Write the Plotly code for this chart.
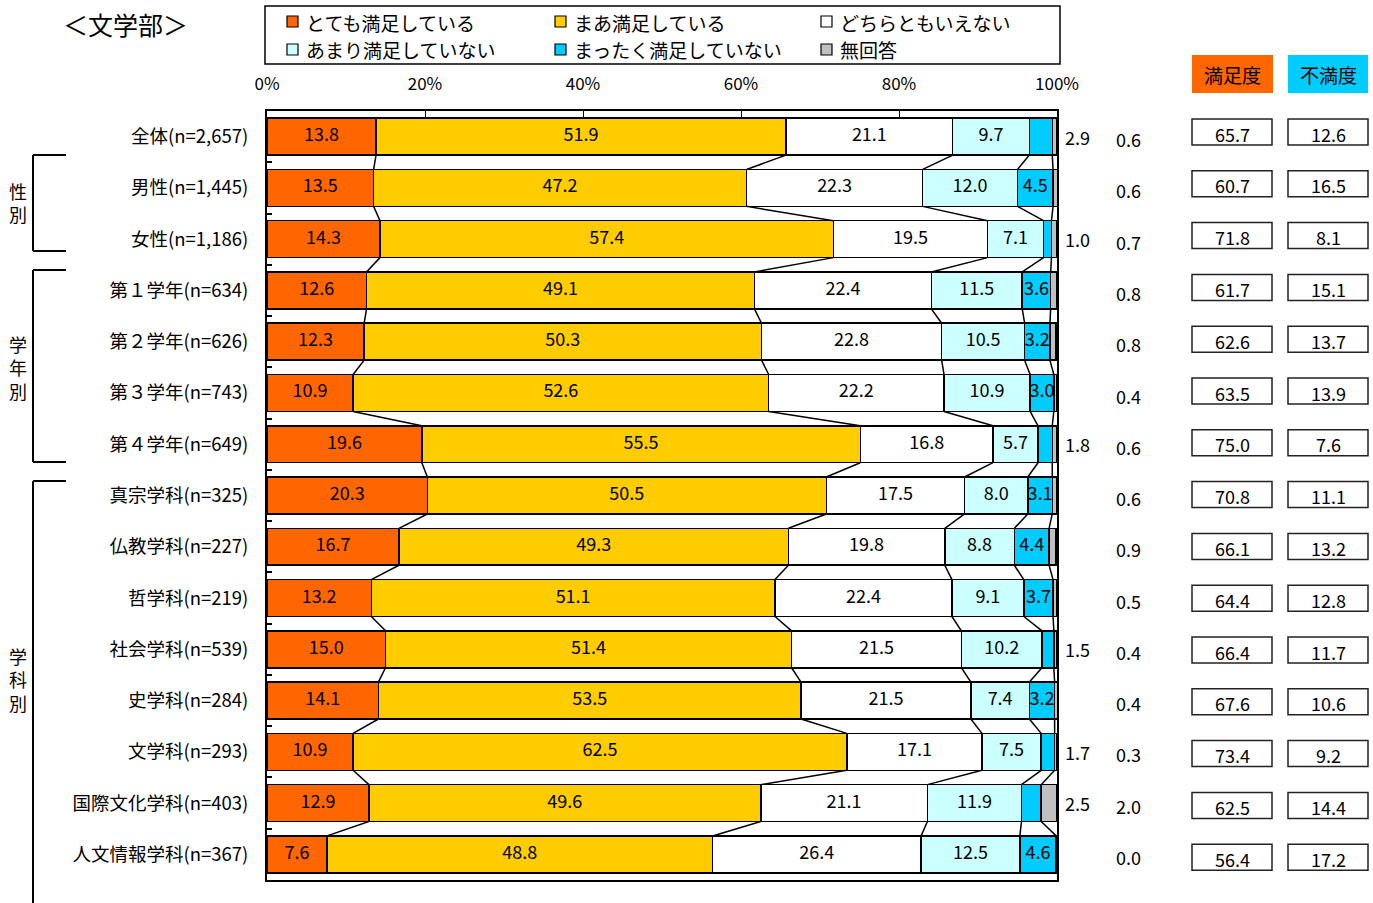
import plotly.graph_objects as go

# ---- data -------------------------------------------------------------
categories = [
    "全体(n=2,657)", "男性(n=1,445)", "女性(n=1,186)",
    "第１学年(n=634)", "第２学年(n=626)", "第３学年(n=743)", "第４学年(n=649)",
    "真宗学科(n=325)", "仏教学科(n=227)", "哲学科(n=219)", "社会学科(n=539)",
    "史学科(n=284)", "文学科(n=293)", "国際文化学科(n=403)", "人文情報学科(n=367)",
]
series_names = ["とても満足している", "まあ満足している", "どちらともいえない",
                "あまり満足していない", "まったく満足していない", "無回答"]
very_satisfied = [13.8, 13.5, 14.3, 12.6, 12.3, 10.9, 19.6, 20.3, 16.7, 13.2, 15.0, 14.1, 10.9, 12.9, 7.6]
fairly_satisfied = [51.9, 47.2, 57.4, 49.1, 50.3, 52.6, 55.5, 50.5, 49.3, 51.1, 51.4, 53.5, 62.5, 49.6, 48.8]
neutral = [21.1, 22.3, 19.5, 22.4, 22.8, 22.2, 16.8, 17.5, 19.8, 22.4, 21.5, 21.5, 17.1, 21.1, 26.4]
not_very_satisfied = [9.7, 12.0, 7.1, 11.5, 10.5, 10.9, 5.7, 8.0, 8.8, 9.1, 10.2, 7.4, 7.5, 11.9, 12.5]
not_satisfied = [2.9, 4.5, 1.0, 3.6, 3.2, 3.0, 1.8, 3.1, 4.4, 3.7, 1.5, 3.2, 1.7, 2.5, 4.6]
no_answer = [0.6, 0.6, 0.7, 0.8, 0.8, 0.4, 0.6, 0.6, 0.9, 0.5, 0.4, 0.4, 0.3, 2.0, 0.0]
satisfaction = [65.7, 60.7, 71.8, 61.7, 62.6, 63.5, 75.0, 70.8, 66.1, 64.4, 66.4, 67.6, 73.4, 62.5, 56.4]
dissatisfaction = [12.6, 16.5, 8.1, 15.1, 13.7, 13.9, 7.6, 11.1, 13.2, 12.8, 11.7, 10.6, 9.2, 14.4, 17.2]
x_tick_vals = [0, 20, 40, 60, 80, 100]
x_tick_text = ["0%", "20%", "40%", "60%", "80%", "100%"]
group_labels = ["性別", "学年別", "学科別"]

series = [very_satisfied, fairly_satisfied, neutral, not_very_satisfied, not_satisfied, no_answer]
colors = ["#FF6600", "#FFCC00", "#FFFFFF", "#CCFFFF", "#00CCFF", "#C0C0C0"]

FONT = "Noto Sans CJK JP, sans-serif"
W, H = 1373, 903
L, R, T, B = 267, 1057, 111, 880
BAR_W = 0.72
n = len(categories)
rows = list(range(n))


def px(x):
    return (x - L) / (R - L)


def py(y):
    return (B - y) / (B - T)


fig = go.Figure()

# stacked bars
for name, vals, col in zip(series_names, series, colors):
    fig.add_trace(go.Bar(
        y=rows, x=vals, name=name, orientation="h", width=BAR_W,
        marker=dict(color=col, line=dict(color="black", width=1.5)),
        showlegend=False, hoverinfo="x+name",
    ))

# cumulative boundaries for connectors and label positions
cums = []
for i in rows:
    c = [0.0]
    for s in series:
        c.append(c[-1] + s[i])
    cums.append(c)

# connector lines between adjacent bars
lx, ly = [], []
for i in range(n - 1):
    for k in range(1, 6):
        lx += [cums[i][k], cums[i + 1][k], None]
        ly += [i + BAR_W / 2, i + 1 - BAR_W / 2, None]
fig.add_trace(go.Scatter(x=lx, y=ly, mode="lines", line=dict(color="black", width=1.5),
                         showlegend=False, hoverinfo="skip"))

# value labels inside the segments
tx, ty, tt = [], [], []
for i in rows:
    for k in range(4):
        tx.append((cums[i][k] + cums[i][k + 1]) / 2)
        ty.append(i)
        tt.append(f"{series[k][i]:.1f}")
    if not_satisfied[i] >= 3.0:
        tx.append((cums[i][4] + cums[i][5]) / 2)
        ty.append(i)
        tt.append(f"{not_satisfied[i]:.1f}")
fig.add_trace(go.Scatter(x=tx, y=ty, text=tt, mode="text", textposition="middle center",
                         textfont=dict(family=FONT, size=18, color="black"),
                         cliponaxis=False, showlegend=False, hoverinfo="skip"))

shapes = []
annotations = []

# small values written beside the bars, in a column right of the plot
for i in rows:
    if not_satisfied[i] < 3.0:
        annotations.append(dict(xref="paper", yref="y", x=px(1077), y=i,
                                text=f"{not_satisfied[i]:.1f}",
                                showarrow=False, xanchor="center", yanchor="middle",
                                font=dict(family=FONT, size=18, color="black")))
    annotations.append(dict(xref="paper", yref="y", x=px(1128), y=i + 0.05,
                            text=f"{no_answer[i]:.1f}",
                            showarrow=False, xanchor="center", yanchor="middle",
                            font=dict(family=FONT, size=18, color="black")))

# legend frame and entries
shapes.append(dict(type="rect", xref="paper", yref="paper", x0=px(265), x1=px(1060),
                   y0=py(64), y1=py(6), line=dict(color="black", width=1.5)))
leg_cols = [287, 555, 821]
leg_rows = [21, 49]
for j, (name, col) in enumerate(zip(series_names, colors)):
    cx = leg_cols[j % 3]
    cy = leg_rows[j // 3]
    shapes.append(dict(type="rect", xref="paper", yref="paper", x0=px(cx), x1=px(cx + 11),
                       y0=py(cy + 6), y1=py(cy - 5), fillcolor=col,
                       line=dict(color="black", width=1.2)))
    annotations.append(dict(xref="paper", yref="paper", x=px(cx + 17), y=py(cy + 1),
                            text=name, showarrow=False, xanchor="left", yanchor="middle",
                            font=dict(family=FONT, size=19, color="black")))

# title
annotations.append(dict(xref="paper", yref="paper", x=px(125), y=py(24), text="＜文学部＞",
                        showarrow=False, xanchor="center", yanchor="middle",
                        font=dict(family=FONT, size=25, color="black")))

# group brackets
brackets = [(155, 251, True), (270, 462, True), (481, 903, False)]
for y0, y1, closed in brackets:
    shapes.append(dict(type="line", xref="paper", yref="paper", x0=px(33), x1=px(33),
                       y0=py(y0), y1=py(y1), line=dict(color="black", width=2)))
    shapes.append(dict(type="line", xref="paper", yref="paper", x0=px(33), x1=px(66),
                       y0=py(y0), y1=py(y0), line=dict(color="black", width=2)))
    if closed:
        shapes.append(dict(type="line", xref="paper", yref="paper", x0=px(33), x1=px(66),
                           y0=py(y1), y1=py(y1), line=dict(color="black", width=2)))
group_centers = [203, 367, 679]
for lab, cy in zip(group_labels, group_centers):
    annotations.append(dict(xref="paper", yref="paper", x=px(18), y=py(cy),
                            text="<br>".join(lab), showarrow=False, xanchor="center",
                            yanchor="middle",
                            font=dict(family=FONT, size=18, color="black")))

# satisfaction / dissatisfaction columns
headers = [("満足度", 1192, 1273, "#FF6600"), ("不満度", 1288, 1368, "#00CCFF")]
for text, x0, x1, col in headers:
    shapes.append(dict(type="rect", xref="paper", yref="paper", x0=px(x0), x1=px(x1),
                       y0=py(93), y1=py(55), fillcolor=col, line=dict(width=0)))
    annotations.append(dict(xref="paper", yref="paper", x=px((x0 + x1) / 2), y=py(75),
                            text=text, showarrow=False, xanchor="center", yanchor="middle",
                            font=dict(family=FONT, size=19, color="black")))

for col_vals, x0, x1 in [(satisfaction, 1192, 1272), (dissatisfaction, 1288, 1368)]:
    for i, v in enumerate(col_vals):
        cy = 132 + 51.8 * i
        shapes.append(dict(type="rect", xref="paper", yref="paper", x0=px(x0), x1=px(x1),
                           y0=py(cy + 13), y1=py(cy - 13),
                           line=dict(color="#222222", width=1.5)))
        annotations.append(dict(xref="paper", yref="paper", x=px((x0 + x1) / 2), y=py(cy + 1.5),
                                text=f"{v:.1f}", showarrow=False, xanchor="center",
                                yanchor="middle",
                                font=dict(family=FONT, size=18, color="black")))

fig.update_layout(
    width=W, height=H,
    margin=dict(l=L, r=W - R, t=T, b=H - B, pad=0),
    barmode="stack",
    plot_bgcolor="white", paper_bgcolor="white",
    font=dict(family=FONT, color="black"),
    shapes=shapes, annotations=annotations,
    showlegend=False,
)
fig.update_xaxes(
    range=[0, 100], side="top", tickvals=x_tick_vals, ticktext=x_tick_text,
    ticks="inside", ticklen=6, tickcolor="black", tickwidth=1,
    showgrid=False, zeroline=False,
    showline=True, linecolor="black", linewidth=2, mirror=True,
    tickfont=dict(family=FONT, size=17, color="black"), ticklabelstandoff=12,
)
fig.update_yaxes(
    range=[n - 0.5, -0.5], tickvals=rows, ticktext=categories, ticks="",
    showgrid=False, zeroline=False,
    showline=True, linecolor="black", linewidth=2, mirror=True,
    tickfont=dict(family=FONT, size=18.5, color="black"), ticklabelstandoff=13,
    minor=dict(tickvals=[i + 0.5 for i in range(n - 1)], ticks="inside", ticklen=5,
               tickcolor="black", tickwidth=1.5, showgrid=False),
)

fig.write_html("out.html")
